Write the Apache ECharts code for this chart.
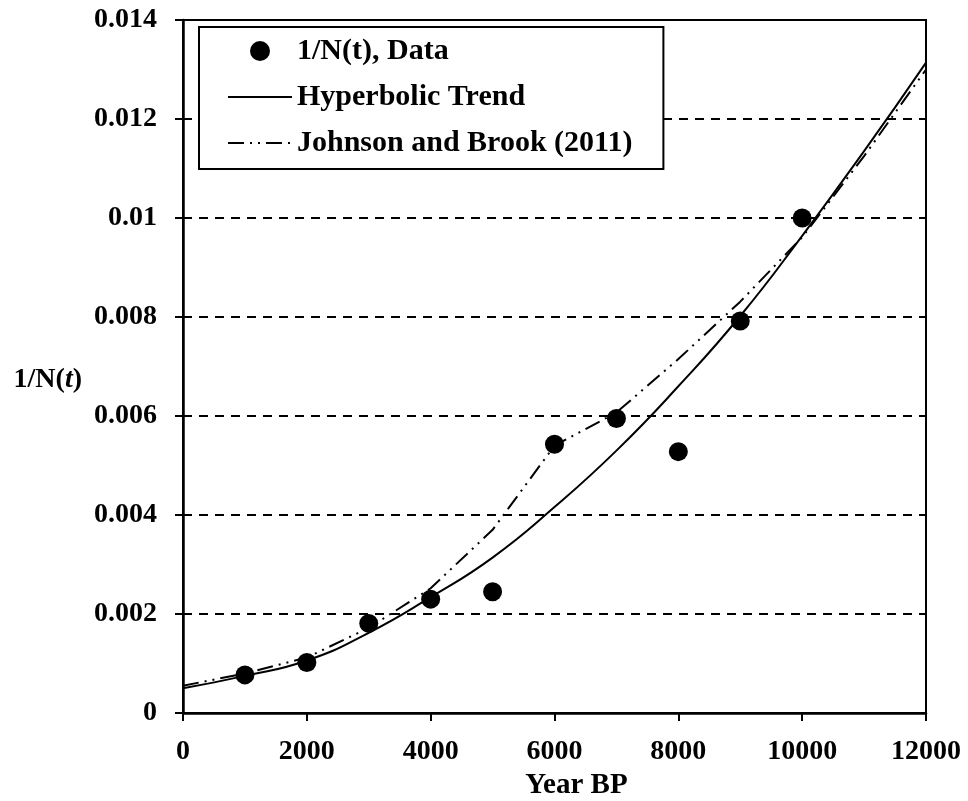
<!DOCTYPE html>
<html>
<head>
<meta charset="utf-8">
<script src="https://cdn.jsdelivr.net/npm/echarts@6/dist/echarts.min.js"></script>
<style>
html,body{margin:0;padding:0;background:#fff;}
#chart{width:968px;height:801px;}
</style>
</head>
<body>
<div id="chart"></div>
<script>
// Data
var dataYears = [1000, 2000, 3000, 4000, 5000, 6000, 7000, 8000, 9000, 10000];
var dataValues = [0.00077, 0.00102, 0.00181, 0.00230, 0.00245, 0.00543, 0.00595, 0.00528, 0.00792, 0.01000];

var trendYears = [0, 1000, 2000, 3000, 4000, 5000, 6000, 7000, 8000, 9000, 10000, 11000, 12000];
var trendValues = [0.00050, 0.00075, 0.00106, 0.00162, 0.00234, 0.00314, 0.00416, 0.00530, 0.00660, 0.00802, 0.00964, 0.01135, 0.01314];

var jbYears = [0, 1000, 2000, 3000, 4000, 5000, 6000, 7000, 8000, 9000, 10000, 11000, 12000];
var jbValues = [0.00055, 0.00080, 0.00112, 0.00172, 0.00252, 0.00370, 0.00540, 0.00607, 0.00715, 0.00831, 0.00961, 0.01125, 0.01300];

var xTicks = [0, 2000, 4000, 6000, 8000, 10000, 12000];
var yTicks = [0, 0.002, 0.004, 0.006, 0.008, 0.01, 0.012, 0.014];

var seriesNames = ['1/N(t), Data', 'Hyperbolic Trend', 'Johnson and Brook (2011)'];

function pairs(xs, ys) { return xs.map(function (x, i) { return [x, ys[i]]; }); }

var FONT = "'Liberation Serif', 'Times New Roman', serif";
var chart = echarts.init(document.getElementById('chart'));
chart.setOption({
  backgroundColor: '#fff',
  animation: false,
  textStyle: { fontFamily: FONT, fontWeight: 'bold', color: '#000' },
  grid: {
    left: 183, right: 42, top: 20, bottom: 88,
    containLabel: false, outerBoundsMode: 'none',
    show: true, borderColor: '#000', borderWidth: 2, backgroundColor: 'transparent'
  },
  legend: {
    orient: 'vertical',
    left: 199, top: 27,
    padding: [9, 31, 11, 28],
    borderColor: '#000', borderWidth: 2,
    backgroundColor: '#fff',
    itemWidth: 64, itemHeight: 20,
    itemGap: 16,
    itemTextGap: 5,
    data: [
      { name: seriesNames[0] },
      { name: seriesNames[1], itemStyle: { color: 'rgba(0,0,0,0)', opacity: 0, borderWidth: 0 } },
      { name: seriesNames[2], itemStyle: { color: 'rgba(0,0,0,0)', opacity: 0, borderWidth: 0 } }
    ],
    textStyle: { fontFamily: FONT, fontWeight: 'bold', fontSize: 30, color: '#000', lineHeight: 30 }
  },
  xAxis: {
    type: 'value', min: 0, max: 12000, interval: 2000,
    name: 'Year BP', nameLocation: 'middle', nameGap: 58,
    nameTextStyle: { fontFamily: FONT, fontWeight: 'bold', fontSize: 29, color: '#000', padding: [0, 0, 0, 44] },
    axisLine: { show: true, onZero: false, lineStyle: { color: '#000', width: 2.5 } },
    axisTick: { show: true, inside: false, length: 8, lineStyle: { color: '#000', width: 2 } },
    axisLabel: {
      margin: 25, fontFamily: FONT, fontWeight: 'bold', fontSize: 28, color: '#000',
      formatter: function (v) { return String(v); }
    },
    splitLine: { show: false }
  },
  yAxis: {
    type: 'value', min: 0, max: 0.014, interval: 0.002,
    name: '{a|1/N(}{b|t}{a|)}', nameLocation: 'middle', nameRotate: 0, nameGap: 101,
    nameTextStyle: {
      padding: [26, 0, 0, 0],
      rich: {
        a: { fontFamily: FONT, fontWeight: 'bold', fontSize: 28, color: '#000' },
        b: { fontFamily: FONT, fontWeight: 'bold', fontStyle: 'italic', fontSize: 28, color: '#000' }
      }
    },
    axisLine: { show: true, onZero: false, lineStyle: { color: '#000', width: 2.5 } },
    axisTick: { show: true, inside: false, length: 8, lineStyle: { color: '#000', width: 2 } },
    axisLabel: {
      margin: 26, fontFamily: FONT, fontWeight: 'bold', fontSize: 28, color: '#000',
      formatter: function (v) { return String(parseFloat(v.toFixed(3))); }
    },
    splitLine: { show: true, lineStyle: { color: '#000', width: 2, type: [9, 7] } }
  },
  series: [
    {
      name: seriesNames[0], type: 'scatter', symbol: 'circle', symbolSize: 19,
      itemStyle: { color: '#000', opacity: 1 }, z: 5,
      data: pairs(dataYears, dataValues)
    },
    {
      name: seriesNames[1], type: 'line', symbol: 'none', smooth: true,
      lineStyle: { color: '#000', width: 2 }, itemStyle: { color: '#000' }, z: 3,
      data: pairs(trendYears, trendValues)
    },
    {
      name: seriesNames[2], type: 'line', symbol: 'none', smooth: false,
      lineStyle: { color: '#000', width: 2, type: [16, 6, 2, 6, 2, 6] }, itemStyle: { color: '#000' }, z: 3,
      data: pairs(jbYears, jbValues)
    }
  ]
});
</script>
</body>
</html>
